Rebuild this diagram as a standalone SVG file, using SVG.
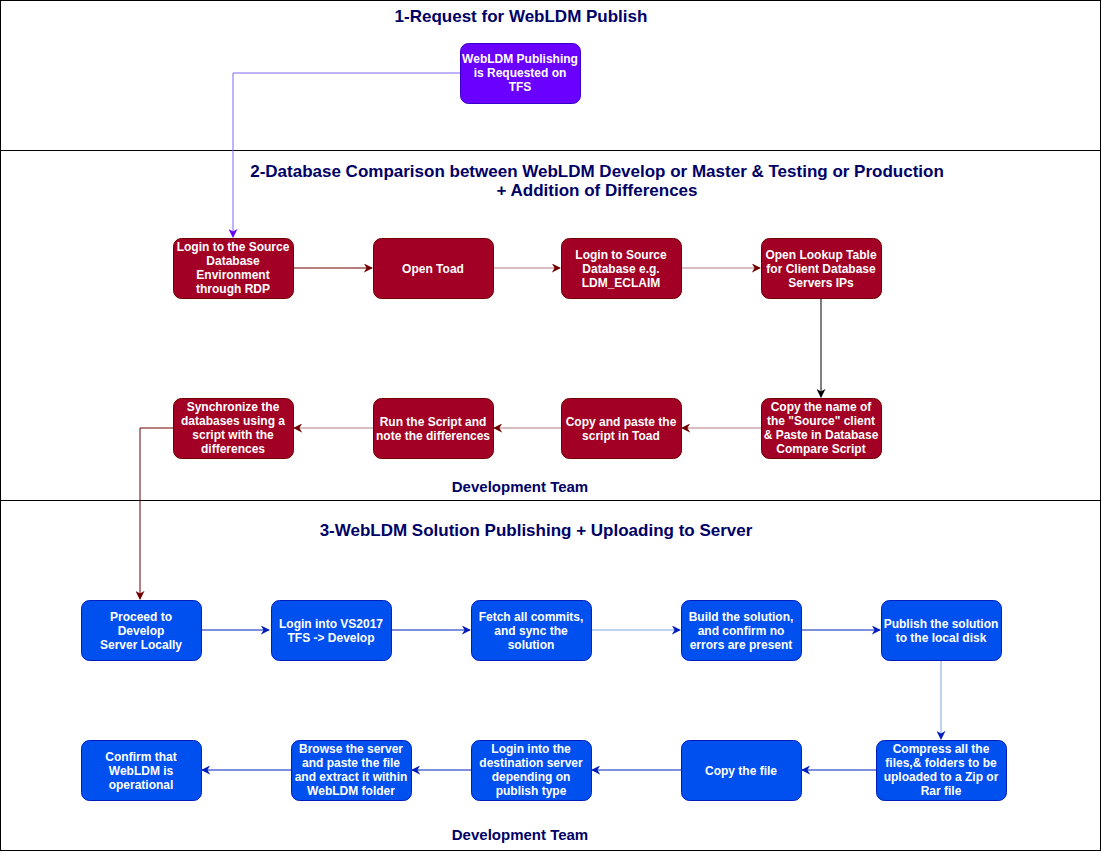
<svg xmlns="http://www.w3.org/2000/svg" width="1102" height="852" viewBox="0 0 1102 852">
<style>
.t{font-family:"Liberation Sans",Arial,sans-serif;font-weight:bold;fill:#000066;text-anchor:middle}
.h{font-size:17px}
.d{font-size:15px}
.n text{font-family:"Liberation Sans",Arial,sans-serif;font-weight:bold;font-size:12px;fill:#ffffff;text-anchor:middle}
.r rect{fill:#a20025;stroke:#6f0000;stroke-width:1}
.b rect{fill:#0050ef;stroke:#001dbc;stroke-width:1}
.p rect{fill:#6a00ff;stroke:#3700cc;stroke-width:1}
.c path{fill:none;stroke-width:1}
</style>
<defs>
<marker id="ar" viewBox="0 0 10 10" refX="9" refY="5" markerWidth="9" markerHeight="9" orient="auto" markerUnits="userSpaceOnUse"><path d="M0,0 L10,5 L0,10 L3,5 z" fill="#6f0000"/></marker>
<marker id="ak" viewBox="0 0 10 10" refX="9" refY="5" markerWidth="9" markerHeight="9" orient="auto" markerUnits="userSpaceOnUse"><path d="M0,0 L10,5 L0,10 L3,5 z" fill="#000000"/></marker>
<marker id="ab" viewBox="0 0 10 10" refX="9" refY="5" markerWidth="9" markerHeight="9" orient="auto" markerUnits="userSpaceOnUse"><path d="M0,0 L10,5 L0,10 L3,5 z" fill="#001dbc"/></marker>
<marker id="ap" viewBox="0 0 10 10" refX="9" refY="5" markerWidth="9" markerHeight="9" orient="auto" markerUnits="userSpaceOnUse"><path d="M0,0 L10,5 L0,10 L3,5 z" fill="#6a00ff"/></marker>
</defs>
<rect x="0" y="0" width="1102" height="852" fill="#ffffff"/>
<g id="lanes" fill="none" stroke="#000000" stroke-width="1">
<rect x="0.5" y="0.5" width="1100" height="850"/>
<line x1="0" y1="150.5" x2="1101" y2="150.5"/>
<line x1="0" y1="500.5" x2="1101" y2="500.5"/>
</g>
<g id="titles">
<text class="t h" x="521" y="22">1-Request for WebLDM Publish</text>
<text class="t h" x="597" y="177">2-Database Comparison between WebLDM Develop or Master &amp; Testing or Production</text>
<text class="t h" x="597" y="196">+ Addition of Differences</text>
<text class="t d" x="520" y="492">Development Team</text>
<text class="t h" x="536" y="536">3-WebLDM Solution Publishing + Uploading to Server</text>
<text class="t d" x="520" y="840">Development Team</text>
</g>
<g id="connectors" class="c">
<path d="M460,73 H233 V237" stroke="#7f66ff" marker-end="url(#ap)"/>
<path d="M293,268 H372" stroke="#6f0000" marker-end="url(#ar)"/>
<path d="M493,268 H560" stroke="#b27a86" marker-end="url(#ar)"/>
<path d="M681,268 H760" stroke="#b27a86" marker-end="url(#ar)"/>
<path d="M821,298 V397" stroke="#000000" marker-end="url(#ak)"/>
<path d="M761,428 H682" stroke="#b27a86" marker-end="url(#ar)"/>
<path d="M561,428 H494" stroke="#b27a86" marker-end="url(#ar)"/>
<path d="M373,428 H294" stroke="#b27a86" marker-end="url(#ar)"/>
<path d="M173,428 H140 V599" stroke="#6f0000" marker-end="url(#ar)"/>
<path d="M201,630 H269" stroke="#001dbc" marker-end="url(#ab)"/>
<path d="M391,630 H470" stroke="#001dbc" marker-end="url(#ab)"/>
<path d="M591,630 H680" stroke="#7ea6e0" marker-end="url(#ab)"/>
<path d="M801,630 H880" stroke="#001dbc" marker-end="url(#ab)"/>
<path d="M941,660 V739" stroke="#7ea6e0" marker-end="url(#ab)"/>
<path d="M876,770 H802" stroke="#001dbc" marker-end="url(#ab)"/>
<path d="M681,770 H592" stroke="#001dbc" marker-end="url(#ab)"/>
<path d="M471,770 H412" stroke="#001dbc" marker-end="url(#ab)"/>
<path d="M291,770 H202" stroke="#001dbc" marker-end="url(#ab)"/>
</g>
<g id="n-request" class="n p"><rect x="460.5" y="43.5" width="120" height="60" rx="8"/><text x="520" y="63">WebLDM Publishing</text><text x="520" y="77">is Requested on</text><text x="520" y="91">TFS</text></g>
<g id="n-login-rdp" class="n r"><rect x="173.5" y="238.5" width="120" height="60" rx="8"/><text x="233" y="251">Login to the Source</text><text x="233" y="265">Database</text><text x="233" y="279">Environment</text><text x="233" y="293">through RDP</text></g>
<g id="n-open-toad" class="n r"><rect x="373.5" y="238.5" width="120" height="60" rx="8"/><text x="433" y="273">Open Toad</text></g>
<g id="n-login-src" class="n r"><rect x="561.5" y="238.5" width="120" height="60" rx="8"/><text x="621" y="259">Login to Source</text><text x="621" y="273">Database e.g.</text><text x="621" y="287">LDM_ECLAIM</text></g>
<g id="n-lookup" class="n r"><rect x="761.5" y="238.5" width="120" height="60" rx="8"/><text x="821" y="259">Open Lookup Table</text><text x="821" y="273">for Client Database</text><text x="821" y="287">Servers IPs</text></g>
<g id="n-copy-name" class="n r"><rect x="761.5" y="398.5" width="120" height="60" rx="8"/><text x="821" y="411">Copy the name of</text><text x="821" y="425">the "Source" client</text><text x="821" y="439">&amp; Paste in Database</text><text x="821" y="453">Compare Script</text></g>
<g id="n-copy-paste" class="n r"><rect x="561.5" y="398.5" width="120" height="60" rx="8"/><text x="621" y="426">Copy and paste the</text><text x="621" y="440">script in Toad</text></g>
<g id="n-run-script" class="n r"><rect x="373.5" y="398.5" width="120" height="60" rx="8"/><text x="433" y="426">Run the Script and</text><text x="433" y="440">note the differences</text></g>
<g id="n-sync" class="n r"><rect x="173.5" y="398.5" width="120" height="60" rx="8"/><text x="233" y="411">Synchronize the</text><text x="233" y="425">databases using a</text><text x="233" y="439">script with the</text><text x="233" y="453">differences</text></g>
<g id="n-proceed" class="n b"><rect x="81.5" y="600.5" width="120" height="60" rx="8"/><text x="141" y="621">Proceed to</text><text x="141" y="635">Develop</text><text x="141" y="649">Server Locally</text></g>
<g id="n-vs2017" class="n b"><rect x="271.5" y="600.5" width="120" height="60" rx="8"/><text x="331" y="628">Login into VS2017</text><text x="331" y="642">TFS -&gt; Develop</text></g>
<g id="n-fetch" class="n b"><rect x="471.5" y="600.5" width="120" height="60" rx="8"/><text x="531" y="621">Fetch all commits,</text><text x="531" y="635">and sync the</text><text x="531" y="649">solution</text></g>
<g id="n-build" class="n b"><rect x="681.5" y="600.5" width="120" height="60" rx="8"/><text x="741" y="621">Build the solution,</text><text x="741" y="635">and confirm no</text><text x="741" y="649">errors are present</text></g>
<g id="n-publish" class="n b"><rect x="881.5" y="600.5" width="120" height="60" rx="8"/><text x="941" y="628">Publish the solution</text><text x="941" y="642">to the local disk</text></g>
<g id="n-compress" class="n b"><rect x="876.5" y="740.5" width="130" height="60" rx="8"/><text x="941" y="753">Compress all the</text><text x="941" y="767">files,&amp; folders to be</text><text x="941" y="781">uploaded to a Zip or</text><text x="941" y="795">Rar file</text></g>
<g id="n-copy-file" class="n b"><rect x="681.5" y="740.5" width="120" height="60" rx="8"/><text x="741" y="775">Copy the file</text></g>
<g id="n-login-dest" class="n b"><rect x="471.5" y="740.5" width="120" height="60" rx="8"/><text x="531" y="753">Login into the</text><text x="531" y="767">destination server</text><text x="531" y="781">depending on</text><text x="531" y="795">publish type</text></g>
<g id="n-browse" class="n b"><rect x="291.5" y="740.5" width="120" height="60" rx="8"/><text x="351" y="753">Browse the server</text><text x="351" y="767">and paste the file</text><text x="351" y="781">and extract it within</text><text x="351" y="795">WebLDM folder</text></g>
<g id="n-confirm" class="n b"><rect x="81.5" y="740.5" width="120" height="60" rx="8"/><text x="141" y="761">Confirm that</text><text x="141" y="775">WebLDM is</text><text x="141" y="789">operational</text></g>
</svg>
